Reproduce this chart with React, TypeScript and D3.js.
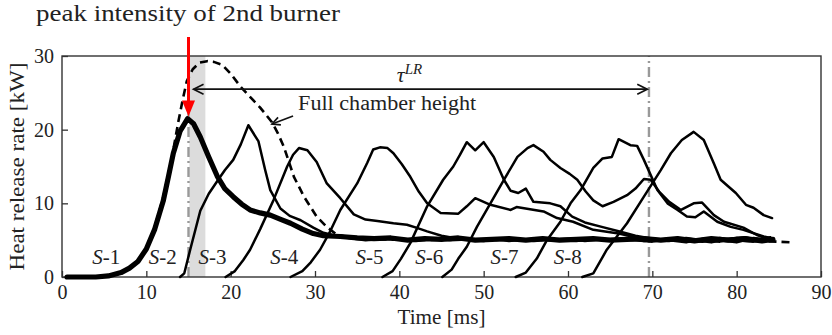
import { useEffect, useRef } from "react";
import * as d3 from "d3";

type Pt = [number, number];

const xTicks = [0, 10, 20, 30, 40, 50, 60, 70, 80, 90];
const yTicks = [0, 10, 20, 30];

// [time ms, heat release kW]
const s1: Pt[] = [
  [0.6, 0], [4, 0], [5.5, 0.15], [7, 0.6], [8, 1.2], [9, 2.1], [10, 3.8], [11, 6.5], [12, 10.3],
  [12.6, 13.5], [13.2, 16.8], [14, 19.8], [14.9, 21.5], [15.6, 20.8], [16.4, 19.0], [17.4, 16.3],
  [18.4, 13.7], [19.3, 12.0], [20.3, 10.9], [21.3, 9.9], [22.3, 9.1], [23.5, 8.7], [24.7, 8.4],
  [26, 7.8], [27.1, 7.3], [28.5, 6.5], [29.8, 5.9], [31, 5.6], [33, 5.5], [35, 5.3], [37, 5.2],
  [39, 5.3], [41, 5.0], [43, 5.2], [45, 5.1], [47, 5.3], [49, 5.0], [51, 5.1], [53, 5.2], [55, 5.0],
  [57, 5.2], [59, 5.0], [61, 5.1], [63, 5.2], [65, 5.0], [67, 5.1], [69, 5.2], [71, 5.0], [73, 5.2],
  [75, 4.9], [77, 5.2], [79, 5.0], [81, 5.2], [83, 4.9], [84.3, 5.1],
];

const fullChamber: Pt[] = [
  [0.6, 0], [4, 0], [5.5, 0.15], [7, 0.6], [8, 1.2], [9, 2.1], [10, 3.9], [11, 6.8], [12, 10.8],
  [13, 16.0], [13.8, 21.1], [14.3, 24.0], [14.8, 26.6], [15.5, 28.2], [16.3, 29.1], [17.2, 29.3],
  [18, 29.2], [19, 28.8], [20, 27.6], [21.2, 25.8], [22.5, 24.2], [23.5, 23.0], [24.9, 21.0],
  [25.6, 19.5], [26.3, 17.7], [27.5, 13.6], [28.7, 10.9], [30.2, 8.2], [31.4, 6.8], [32.5, 5.8],
  [34, 5.4], [38, 5.1], [42, 5.0], [46, 5.1], [50, 5.0], [54, 5.1], [58, 5.0], [62, 5.1], [66, 5.0],
  [70, 5.1], [74, 5.0], [78, 5.0], [82, 4.9], [84.8, 4.8], [86.6, 4.7],
];

const s2: Pt[] = [
  [14, 0], [14.5, 0.5], [15.2, 3.7], [16.4, 9.0], [17.4, 11.3], [18.4, 13.0], [19.3, 14.5],
  [20.3, 15.9], [21.2, 18.0], [22.1, 20.6], [23.3, 18.4], [24.1, 14.5], [24.7, 11.8], [25.9, 9.3],
  [27, 8.3], [28.3, 7.7], [29.8, 6.7], [31, 6.0], [32.5, 5.6], [34, 5.3], [36, 5.0], [38, 5.2],
  [40, 5.1], [42, 4.9], [44, 5.2], [46, 5.0], [48, 5.1], [50, 4.9], [52, 5.2], [54, 5.1], [56, 4.9],
  [58, 5.1], [60, 5.2], [62, 4.9], [64, 5.1], [66, 5.2], [68, 5.0], [70, 4.8], [72, 5.2], [74, 5.0],
  [76, 4.8], [78, 5.3], [80, 5.0], [82, 4.8], [84, 5.2],
];

const s3: Pt[] = [
  [19.4, 0], [20.5, 0.8], [21.5, 2.3], [22.3, 3.7], [23.5, 6.5], [25.1, 10.5], [26.7, 15.0],
  [27.4, 16.6], [28.1, 17.5], [29.1, 17.2], [30.2, 15.6], [31.4, 12.7], [33, 10.7], [34.6, 8.5],
  [36, 7.8], [37.4, 7.6], [39.3, 7.3], [40.9, 7.1], [42, 6.7], [43.3, 6.2], [45, 5.6], [47, 5.2],
  [49, 5.0], [51, 5.2], [53, 4.9], [55, 5.1], [57, 5.2], [59, 5.0], [61, 4.9], [63, 5.2], [65, 5.0],
  [67, 5.3], [69, 4.9], [71, 5.1], [73, 5.3], [75, 5.0], [77, 4.7], [79, 5.2], [81, 5.4], [83, 4.9],
  [84, 5.1],
];

const s4: Pt[] = [
  [27.1, 0], [28.5, 0.8], [29.5, 2.0], [30.6, 3.7], [31.8, 6.2], [33, 9.1], [35, 12.7], [36.2, 15.5],
  [36.9, 17.3], [37.7, 17.6], [38.6, 17.5], [39.3, 16.8], [40.3, 15.3], [41.3, 13.6], [42.3, 11.6],
  [43.3, 10.0], [44.9, 8.7], [47, 8.6], [48, 9.6], [49, 10.7], [50.8, 9.8], [53.2, 9.1], [53.9, 9.5],
  [55.5, 9.2], [57.1, 8.9], [58.7, 8.0], [60.6, 7.5], [63, 6.4], [66, 5.9], [68, 5.4], [70, 5.1],
  [72, 4.9], [74, 5.3], [76, 5.0], [78, 4.8], [80, 5.3], [82, 5.0], [84, 5.4],
];

const s5: Pt[] = [
  [38, 0], [39.2, 0.8], [40.2, 2.5], [41.3, 4.6], [43.3, 9.6], [45.2, 13.2], [46.4, 15.0],
  [47.2, 16.6], [48, 18.3], [49, 17.2], [50, 18.3], [51.2, 16.3], [52.4, 13.2], [53.2, 11.7],
  [54.1, 11.4], [55, 12.0], [55.9, 10.2], [57.9, 10.0], [59.1, 9.6], [60.5, 8.2], [62, 7.4],
  [64, 6.8], [66, 6.2], [68, 5.6], [70, 5.2], [72, 5.0], [74, 4.7], [76, 5.2], [78, 5.0], [80, 4.7],
  [82, 5.3], [84, 5.0],
];

const s6: Pt[] = [
  [45.1, 0], [46.2, 1.0], [47, 2.5], [48, 4.1], [49.2, 6.8], [50.8, 10.0], [52.4, 13.2], [54, 16.3],
  [55.2, 17.5], [55.9, 17.9], [57.1, 17.0], [57.9, 15.9], [59.1, 14.8], [60.2, 14.0], [61.1, 13.2],
  [62.1, 11.6], [63, 10.4], [64.1, 9.6], [65.4, 10.2], [67, 11.1], [68, 12.0], [69, 13.3],
  [69.8, 13.2], [70.8, 11.6], [72, 10.2], [73.4, 9.1], [74.9, 10.0], [75.9, 10.1], [77.3, 8.4],
  [78.5, 7.5], [80.8, 6.7], [82.4, 5.7], [83.2, 5.4], [84, 5.2],
];

const s7: Pt[] = [
  [53.8, 0], [55, 0.6], [56.3, 2.5], [57.5, 5.0], [59.1, 7.5], [60.3, 10.0], [61.5, 11.8], [63, 14.8],
  [64.1, 16.1], [65.2, 16.3], [66, 18.7], [67.4, 17.9], [68.2, 17.8], [69, 15.9], [70.6, 11.8],
  [71.8, 10.0], [73, 9.1], [74.1, 8.2], [75.1, 8.1], [76.1, 8.9], [77.7, 7.5], [79.3, 6.8],
  [80.8, 6.4], [83.2, 5.5], [84, 5.3],
];

const s8: Pt[] = [
  [61.7, 0], [63, 0.5], [64.6, 3.7], [67, 7.3], [69, 10.9], [71, 14.5], [72.2, 16.8], [73.5, 18.6],
  [74.9, 19.7], [76.1, 18.6], [77.3, 15.4], [78.1, 13.2], [79.9, 11.4], [81.1, 9.8], [82, 9.4],
  [83.2, 8.4], [84.2, 8.0],
];

const stageNames = ["1", "2", "3", "4", "5", "6", "7", "8"];
const stageLabelAt = [3.6, 10.3, 16.2, 24.7, 34.8, 41.9, 50.8, 58.3];

const W = 832;
const H = 335;
const FONT = "'Liberation Serif', 'Times New Roman', serif";

export default function App() {
  const svgRef = useRef<SVGSVGElement>(null);

  useEffect(() => {
    if (!svgRef.current) return;
    const svg = d3.select(svgRef.current);
    svg.selectAll("*").remove();

    const x = d3.scaleLinear().domain([0, 90]).range([62, 821]);
    const y = d3.scaleLinear().domain([0, 30]).range([277, 56]);
    const [x0, x1] = x.range();
    const [yb, yt] = y.range();

    // shaded window around the second burner peak
    svg.append("rect")
      .attr("x", x(15.1)).attr("y", yt)
      .attr("width", x(17.0) - x(15.1)).attr("height", yb - yt)
      .attr("fill", "#dcdcdc");

    // grey dash-dot markers
    [15, 69.6].forEach((t) => {
      svg.append("line")
        .attr("x1", x(t)).attr("x2", x(t))
        .attr("y1", yb).attr("y2", yt)
        .attr("stroke", "#999").attr("stroke-width", 2.4)
        .attr("stroke-dasharray", "10,4,2,4");
    });

    // axes (inward ticks, frame drawn separately)
    const gx = svg.append("g")
      .attr("transform", `translate(0,${yb})`)
      .call(d3.axisBottom(x).tickValues(xTicks).tickSize(-6).tickPadding(8).tickFormat(d3.format("d")));
    const gy = svg.append("g")
      .attr("transform", `translate(${x0},0)`)
      .call(d3.axisLeft(y).tickValues(yTicks).tickSize(-6).tickPadding(8).tickFormat(d3.format("d")));
    [gx, gy].forEach((g) => {
      g.select(".domain").remove();
      g.attr("font-family", FONT).attr("font-size", 20);
      g.selectAll("line").attr("stroke", "#333").attr("stroke-width", 1.3);
      g.selectAll("text").attr("fill", "#222");
    });

    svg.append("rect")
      .attr("x", x0).attr("y", yt).attr("width", x1 - x0).attr("height", yb - yt)
      .attr("fill", "none").attr("stroke", "#333").attr("stroke-width", 1.4);

    const line = d3.line<Pt>().x((d) => x(d[0])).y((d) => y(d[1]));
    const curves = svg.append("g").attr("fill", "none").attr("stroke", "#000")
      .attr("stroke-linejoin", "round").attr("stroke-linecap", "round");

    [s2, s3, s4, s5, s6, s7, s8].forEach((s) => {
      curves.append("path").attr("d", line(s)).attr("stroke-width", 2.5);
    });
    curves.append("path").attr("d", line(fullChamber))
      .attr("stroke-width", 2.6).attr("stroke-dasharray", "8,5").attr("stroke-linecap", "butt");
    curves.append("path").attr("d", line(s1)).attr("stroke-width", 5.2);

    // stage labels
    stageNames.forEach((n, i) => {
      const t = svg.append("text")
        .attr("x", x(stageLabelAt[i])).attr("y", y(1.75))
        .attr("font-family", FONT).attr("font-size", 21).attr("fill", "#222");
      t.append("tspan").attr("font-style", "italic").text("S");
      t.append("tspan").text(`-${n}`);
    });

    const chevron = (tx: number, ty: number, dx: number, dy: number, len: number, half: number) => {
      const nx = -dy, ny = dx;
      const bx = tx - dx * len, by = ty - dy * len;
      return `M${bx + nx * half},${by + ny * half}L${tx},${ty}L${bx - nx * half},${by - ny * half}`;
    };

    // tau^LR arrow
    const ty = y(25.5);
    const ta = x(15.6), tb = x(69.4);
    const ann = svg.append("g").attr("fill", "none").attr("stroke", "#111").attr("stroke-width", 1.7);
    ann.append("line").attr("x1", ta).attr("x2", tb).attr("y1", ty).attr("y2", ty);
    ann.append("path").attr("d", chevron(ta, ty, -1, 0, 10, 5));
    ann.append("path").attr("d", chevron(tb, ty, 1, 0, 10, 5));

    const tau = svg.append("text")
      .attr("x", x(39.7)).attr("y", y(26.5))
      .attr("font-family", FONT).attr("font-style", "italic").attr("font-size", 22).attr("fill", "#222");
    tau.append("tspan").text("τ");
    tau.append("tspan").attr("font-size", 15).attr("dy", -8).text("LR");

    // full chamber height label + pointer
    svg.append("text")
      .attr("x", x(28.0)).attr("y", y(22.7))
      .attr("font-family", FONT).attr("font-size", 20).attr("fill", "#222")
      .attr("textLength", 178).attr("lengthAdjust", "spacingAndGlyphs")
      .text("Full chamber height");
    const ax0 = x(27.4), ay0 = y(21.85), ax1 = x(24.9), ay1 = y(20.77);
    const len = Math.hypot(ax1 - ax0, ay1 - ay0);
    ann.append("line").attr("x1", ax0).attr("y1", ay0).attr("x2", ax1).attr("y2", ay1);
    ann.append("path").attr("d", chevron(ax1, ay1, (ax1 - ax0) / len, (ay1 - ay0) / len, 8, 4));

    // red arrow: peak intensity of 2nd burner
    const rx = x(15);
    const tip = y(21.8);
    svg.append("line")
      .attr("x1", rx).attr("x2", rx).attr("y1", 37).attr("y2", tip - 12)
      .attr("stroke", "#ff0000").attr("stroke-width", 3);
    svg.append("path")
      .attr("d", `M${rx},${tip}L${rx - 6.5},${tip - 16}L${rx + 6.5},${tip - 16}Z`)
      .attr("fill", "#ff0000");

    svg.append("text")
      .attr("x", 36).attr("y", 21)
      .attr("font-family", FONT).attr("font-size", 24).attr("fill", "#222")
      .attr("textLength", 304).attr("lengthAdjust", "spacingAndGlyphs")
      .text("peak intensity of 2nd burner");

    // axis titles
    svg.append("text")
      .attr("x", (x0 + x1) / 2).attr("y", 324).attr("text-anchor", "middle")
      .attr("font-family", FONT).attr("font-size", 21).attr("fill", "#222")
      .attr("textLength", 88).attr("lengthAdjust", "spacingAndGlyphs")
      .text("Time [ms]");
    svg.append("text")
      .attr("transform", `translate(24,${(yb + yt) / 2}) rotate(-90)`)
      .attr("text-anchor", "middle")
      .attr("font-family", FONT).attr("font-size", 21).attr("fill", "#222")
      .attr("textLength", 208).attr("lengthAdjust", "spacingAndGlyphs")
      .text("Heat release rate [kW]");
  }, []);

  return (
    <svg
      ref={svgRef}
      width={W}
      height={H}
      style={{ position: "absolute", left: 0, top: 0, background: "#fff" }}
    />
  );
}
